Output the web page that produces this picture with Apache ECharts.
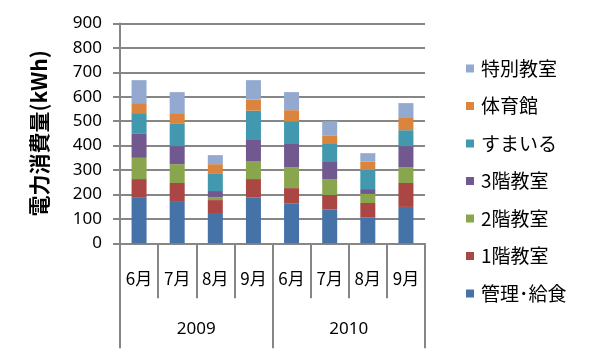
<!DOCTYPE html>
<html><head><meta charset="utf-8">
<script src="https://cdn.jsdelivr.net/npm/echarts@6/dist/echarts.min.js"></script>
<style>html,body{margin:0;padding:0;background:#fff}#c{width:592px;height:359px}</style>
</head><body><div id="c"></div>
<script>
const months = ['6月','7月','8月','9月','6月','7月','8月','9月'];
const years = ['2009','2010'];
const seriesNames = ['管理･給食','1階教室','2階教室','3階教室','すまいる','体育館','特別教室'];
const kanri   = [189, 173, 124, 187, 164, 139, 105, 149];
const kai1    = [74, 74, 53, 76, 62, 59, 60, 98];
const kai2    = [87, 77, 12, 74, 86, 65, 37, 65];
const kai3    = [98, 74, 25, 86, 98, 70, 20, 86];
const sumairu = [85, 91, 70, 120, 89, 77, 78, 65];
const taiiku  = [41, 44, 40, 45, 46, 30, 34, 50];
const tokubetsu = [94, 86, 37, 80, 74, 60, 35, 61];
const yTicks = {min: 0, max: 900, interval: 100};
const colors = ['#4572A7','#AA4643','#89A54E','#71588F','#4198AF','#DB843D','#93A9CF'];
const values = [kanri, kai1, kai2, kai3, sumairu, taiiku, tokubetsu];

const gray = '#868686';
const font = '"Noto Sans CJK JP", "Noto Sans", sans-serif';
const chart = echarts.init(document.getElementById('c'));
chart.setOption({
  animation: false,
  textStyle: {fontFamily: font},
  grid: {left: 120, right: 167, top: 23.5, bottom: 115.7},
  legend: {
    orient: 'vertical', left: 461, top: 54,
    data: seriesNames.slice().reverse(),
    icon: 'rect', itemWidth: 8, itemHeight: 8, itemGap: 18.5,
    textStyle: {fontSize: 19, color: '#000', fontFamily: font, padding: [0,0,0,2]}
  },
  yAxis: {
    type: 'value', min: yTicks.min, max: yTicks.max, interval: yTicks.interval,
    name: '電力消費量(kWh)', nameLocation: 'middle', nameGap: 70,
    nameTextStyle: {fontSize: 21, fontWeight: 'bold', color: '#000', fontFamily: font},
    axisLine: {show: true, lineStyle: {color: gray, width: 2}},
    axisTick: {show: true, length: 7, lineStyle: {color: gray, width: 2}},
    axisLabel: {fontSize: 17, color: '#000', margin: 18, fontFamily: '"Noto Sans", sans-serif'},
    splitLine: {lineStyle: {color: gray, width: 2}}
  },
  xAxis: [{
    type: 'category', data: months, position: 'bottom',
    axisLine: {lineStyle: {color: gray, width: 2}},
    axisTick: {show: true, length: 55, lineStyle: {color: gray, width: 2}},
    axisLabel: {fontSize: 17, color: '#000', margin: 27, interval: 0}
  }, {
    type: 'category', data: years, position: 'bottom',
    axisLine: {show: false},
    axisTick: {show: true, length: 105, lineStyle: {color: gray, width: 2}},
    axisLabel: {fontSize: 17, color: '#000', margin: 77, fontFamily: '"Noto Sans", sans-serif'}
  }],
  series: seriesNames.map((n, i) => ({
    name: n, type: 'bar', stack: 'total', xAxisIndex: 0, barWidth: 15,
    itemStyle: {color: colors[i]}, data: values[i]
  }))
});
</script></body></html>
